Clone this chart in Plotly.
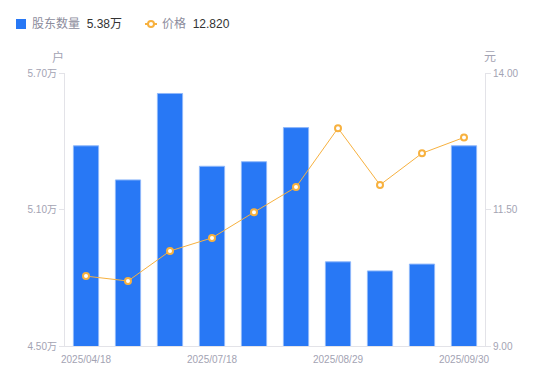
import plotly.graph_objects as go

dates = ["2025/04/18", "2025/05/09", "2025/06/20", "2025/07/18", "2025/07/31",
         "2025/08/15", "2025/08/29", "2025/09/10", "2025/09/19", "2025/09/30"]
holders = [5.38, 5.23, 5.61, 5.29, 5.31, 5.46, 4.87, 4.83, 4.86, 5.38]  # 万户
price = [10.28, 10.19, 10.74, 10.98, 11.45, 11.91, 12.99, 11.95, 12.53, 12.82]
x_ticks = ["2025/04/18", "2025/07/18", "2025/08/29", "2025/09/30"]
left_ticks = [4.50, 5.10, 5.70]
right_ticks = [9.00, 11.50, 14.00]

BLUE = "#2878f5"
ORANGE = "#f7b13f"
GRAY = "#a3a3b3"
AXIS = "#e3e3e8"
FONT = "Liberation Sans, Arial, Noto Sans CJK SC, sans-serif"

fig = go.Figure()
fig.add_trace(go.Bar(
    x=dates, y=holders, base=0, name="股东数量",
    marker=dict(color=BLUE, line=dict(color="#8fb8fa", width=1)),
    yaxis="y",
))
fig.add_trace(go.Scatter(
    x=dates, y=price, name="价格", mode="lines+markers",
    line=dict(color=ORANGE, width=1),
    marker=dict(symbol="circle", size=6, color="white",
                line=dict(color=ORANGE, width=2)),
    yaxis="y2",
))

fig.update_layout(
    width=550, height=381,
    margin=dict(l=65, r=65, t=73, b=35),
    paper_bgcolor="white", plot_bgcolor="white",
    showlegend=False,
    bargap=0.4,
    font=dict(family=FONT, size=10, color=GRAY),
    xaxis=dict(
        type="category", range=[-0.5, len(dates) - 0.5],
        tickmode="array", tickvals=x_ticks, ticktext=x_ticks,
        showline=True, linecolor=AXIS, linewidth=1,
        ticks="", showgrid=False, zeroline=False,
        ticklabelstandoff=4,
        tickfont=dict(size=10, color=GRAY),
    ),
    yaxis=dict(
        range=[4.50, 5.70], tickvals=left_ticks,
        ticktext=[f"{v:.2f}万" for v in left_ticks],
        showline=True, linecolor=AXIS, linewidth=1,
        ticks="outside", ticklen=5, tickcolor=AXIS,
        showgrid=False, zeroline=False,
        tickfont=dict(size=10, color=GRAY),
    ),
    yaxis2=dict(
        range=[9.0, 14.0], tickvals=right_ticks,
        ticktext=[f"{v:.2f}" for v in right_ticks],
        overlaying="y", side="right",
        showline=True, linecolor=AXIS, linewidth=1,
        ticks="outside", ticklen=5, tickcolor=AXIS,
        showgrid=False, zeroline=False,
        tickfont=dict(size=10, color=GRAY),
    ),
)


def px_x(p):
    return (p - 65) / 420.0


def px_y(p):
    return (346 - p) / 273.0


# axis unit labels
fig.add_annotation(text="户", xref="paper", yref="paper", x=px_x(58), y=px_y(57),
                   showarrow=False, xanchor="center", yanchor="middle",
                   font=dict(size=12, color=GRAY))
fig.add_annotation(text="元", xref="paper", yref="paper", x=px_x(490), y=px_y(57),
                   showarrow=False, xanchor="center", yanchor="middle",
                   font=dict(size=12, color=GRAY))

# custom legend
fig.add_shape(type="rect", xref="paper", yref="paper",
              x0=px_x(16), x1=px_x(26), y0=px_y(29), y1=px_y(19),
              fillcolor=BLUE, line=dict(width=0))
fig.add_annotation(
    text=f"股东数量  <span style='color:#333333'>{holders[-1]:.2f}万</span>",
    xref="paper", yref="paper", x=px_x(30), y=px_y(24),
    showarrow=False, xanchor="left", yanchor="middle",
    font=dict(size=12, color="#8c8c9c"))
fig.add_shape(type="line", xref="paper", yref="paper",
              x0=px_x(145), x1=px_x(157), y0=px_y(24), y1=px_y(24),
              line=dict(color=ORANGE, width=2))
fig.add_shape(type="circle", xref="paper", yref="paper",
              x0=px_x(148), x1=px_x(154), y0=px_y(27), y1=px_y(21),
              fillcolor="white", line=dict(color=ORANGE, width=2))
fig.add_annotation(
    text=f"价格  <span style='color:#333333'>{price[-1]:.3f}</span>",
    xref="paper", yref="paper", x=px_x(160), y=px_y(24),
    showarrow=False, xanchor="left", yanchor="middle",
    font=dict(size=12, color="#8c8c9c"))

fig.write_html("out.html",
               config={"displayModeBar": False},
               post_script="document.body.style.margin='0';document.body.style.overflow='hidden';")
